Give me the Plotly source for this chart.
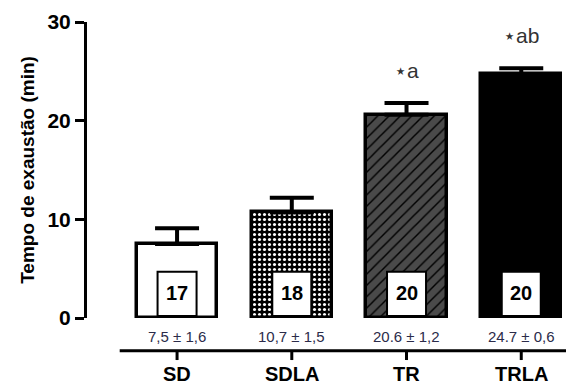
import plotly.graph_objects as go

categories = ["SD", "SDLA", "TR", "TRLA"]
means = [7.5, 10.7, 20.6, 24.7]
sems = [1.6, 1.5, 1.2, 0.6]
n_labels = ["17", "18", "20", "20"]
value_labels = ["7,5 ± 1,6", "10,7 ± 1,5", "20.6 ± 1,2", "24.7 ± 0,6"]
sig_labels = ["", "", "⋆a", "⋆ab"]
yticks = [0, 10, 20, 30]

FONT = "Arial, Liberation Sans, sans-serif"
xs = list(range(len(categories)))
XR = [-0.785, 3.39]


def xpaper(v):
    return (v - XR[0]) / (XR[1] - XR[0])


fig = go.Figure()
pattern_shapes = ["", ".", "/", ""]
bgcolors = ["white", "black", "#4a4a4a", "black"]
fgcolors = ["black", "white", "black", "black"]
sizes = [8, 5, 8, 8]
solid = [0.3, 0.3, 0.18, 0.3]
for i, c in enumerate(categories):
    fig.add_trace(go.Bar(
        x=[xs[i]], y=[means[i]], width=0.70,
        marker=dict(color=bgcolors[i],
                    line=dict(color="black", width=3.5),
                    pattern=dict(shape=pattern_shapes[i], bgcolor=bgcolors[i],
                                 fgcolor=fgcolors[i], size=sizes[i],
                                 solidity=solid[i], fillmode="replace")),
        error_y=dict(type="data", symmetric=False, array=[sems[i]], arrayminus=[0],
                     color="black", thickness=4, width=22),
        showlegend=False, hoverinfo="skip"))

shapes = []
annotations = []
for i in xs:
    shapes.append(dict(type="rect", xref="x", yref="y", x0=i - 0.17, x1=i + 0.17,
                       y0=0.2, y1=4.7, fillcolor="white",
                       line=dict(color="black", width=2), layer="above"))
    annotations.append(dict(x=i, y=2.5, xref="x", yref="y", text="<b>%s</b>" % n_labels[i],
                            showarrow=False, font=dict(family=FONT, size=20, color="black")))
    annotations.append(dict(x=i, y=-0.061, xref="x", yref="paper", text=value_labels[i],
                            showarrow=False, yanchor="middle",
                            font=dict(family=FONT, size=15, color="#2b2b4a")))
    annotations.append(dict(x=i, y=-0.19, xref="x", yref="paper", text="<b>%s</b>" % categories[i],
                            showarrow=False, yanchor="middle",
                            font=dict(family=FONT, size=20, color="black")))
    shapes.append(dict(type="line", xref="paper", yref="paper", x0=xpaper(i), x1=xpaper(i),
                       y0=-0.111, y1=-0.142, line=dict(color="black", width=3)))
    if sig_labels[i]:
        annotations.append(dict(x=i, y=means[i] + sems[i] + 3.3, xref="x", yref="y",
                                text=sig_labels[i], showarrow=False, yanchor="middle",
                                font=dict(family=FONT, size=21, color="#333333")))

shapes.append(dict(type="line", xref="paper", yref="paper", x0=xpaper(-0.5), x1=1.0,
                   y0=-0.111, y1=-0.111, line=dict(color="black", width=3)))

fig.update_layout(
    width=572, height=388,
    margin=dict(l=87, r=6, t=22, b=70),
    paper_bgcolor="white", plot_bgcolor="white",
    shapes=shapes, annotations=annotations, bargap=0,
    xaxis=dict(range=XR, showticklabels=False, showline=False,
               showgrid=False, zeroline=False, ticks=""),
    yaxis=dict(range=[0, 30], tickvals=yticks, ticktext=["<b>%d</b>" % v for v in yticks],
               showline=True, linecolor="black", linewidth=3, ticks="outside",
               ticklen=9, tickwidth=3, tickcolor="black", showgrid=False, zeroline=False,
               tickfont=dict(family=FONT, size=21, color="black"),
               title=dict(text="<b>Tempo de exaustão (min)</b>", standoff=8,
                          font=dict(family=FONT, size=19, color="black"))),
)

fig.write_html("out.html", config={"displayModeBar": False},
               post_script="document.body.style.margin='0';")
